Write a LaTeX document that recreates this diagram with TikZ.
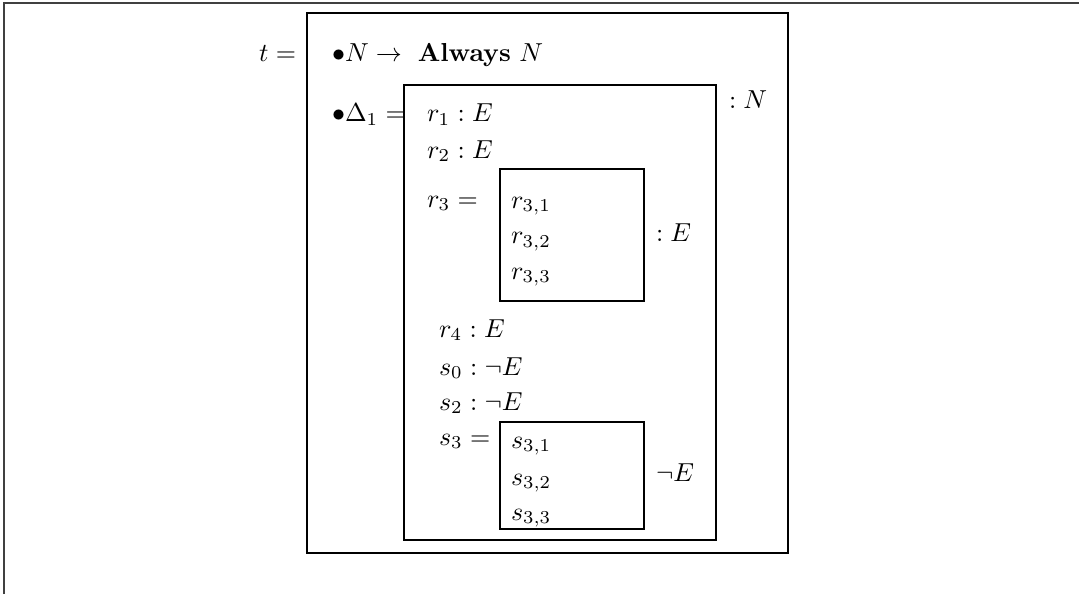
\documentclass[tikz,border=0pt]{standalone}
\usepackage{amsmath}
\newcommand{\sz}[1]{\scalebox{1.04}{#1}}
\begin{document}
\begin{tikzpicture}[x=0.4pt,y=-0.4pt,
  txt/.style={anchor=base west,inner sep=0pt,outer sep=0pt},
  frame/.style={draw,line width=0.5pt,anchor=north west,inner sep=0pt,outer sep=0pt},
  rule/.style={line width=0.6pt,draw=black!75}]
\useasboundingbox (0,0) rectangle (1079,594);
% outer frame (only top and left visible)
\coordinate (fa) at (4,594);
\coordinate (fb) at (4,3);
\coordinate (fc) at (1079,3);
\draw[rule] (fa) -- (fb) -- (fc);
% boxes
\node[frame,minimum width=192.4pt,minimum height=216pt] (tbox) at (307,13) {};
\node[frame,minimum width=124.8pt,minimum height=182pt] (dbox) at (404,85) {};
\node[frame,minimum width=57.6pt,minimum height=52.8pt] (rbox) at (500,169) {};
\node[frame,minimum width=57.6pt,minimum height=42.8pt] (sbox) at (500,422) {};
% texts
\node[txt,anchor=base east] (teq) at (296,61) {\sz{$t =$}};
\node[txt] (l1) at (332,61.5) {\sz{$\bullet N \rightarrow\;$ \textbf{Always} $N$}};
\node[txt] (l2) at (332,121.5) {\sz{$\bullet \Delta_1 =$}};
\node[txt] (tN) at (729,108) {\sz{$: N$}};
\node[txt] (r1) at (427,121.5) {\sz{$r_1 : E$}};
\node[txt] (r2) at (427,158) {\sz{$r_2 : E$}};
\node[txt] (r3) at (427,207) {\sz{$r_3 =$}};
\node[txt] (r31) at (511,208) {\sz{$r_{3,1}$}};
\node[txt] (r32) at (511,243.5) {\sz{$r_{3,2}$}};
\node[txt] (r33) at (511,279) {\sz{$r_{3,3}$}};
\node[txt] (rE) at (656,241.7) {\sz{$: E$}};
\node[txt] (r4) at (439,337) {\sz{$r_4 : E$}};
\node[txt] (s0) at (439,375) {\sz{$s_0 : \neg E$}};
\node[txt] (s2) at (439,410) {\sz{$s_2 : \neg E$}};
\node[txt] (s3) at (439,445) {\sz{$s_3 =$}};
\node[txt] (s31) at (511,448) {\sz{$s_{3,1}$}};
\node[txt] (s32) at (511,485) {\sz{$s_{3,2}$}};
\node[txt] (s33) at (511,520) {\sz{$s_{3,3}$}};
\node[txt] (sE) at (656,481.7) {\sz{$\neg E$}};
\end{tikzpicture}
\end{document}
